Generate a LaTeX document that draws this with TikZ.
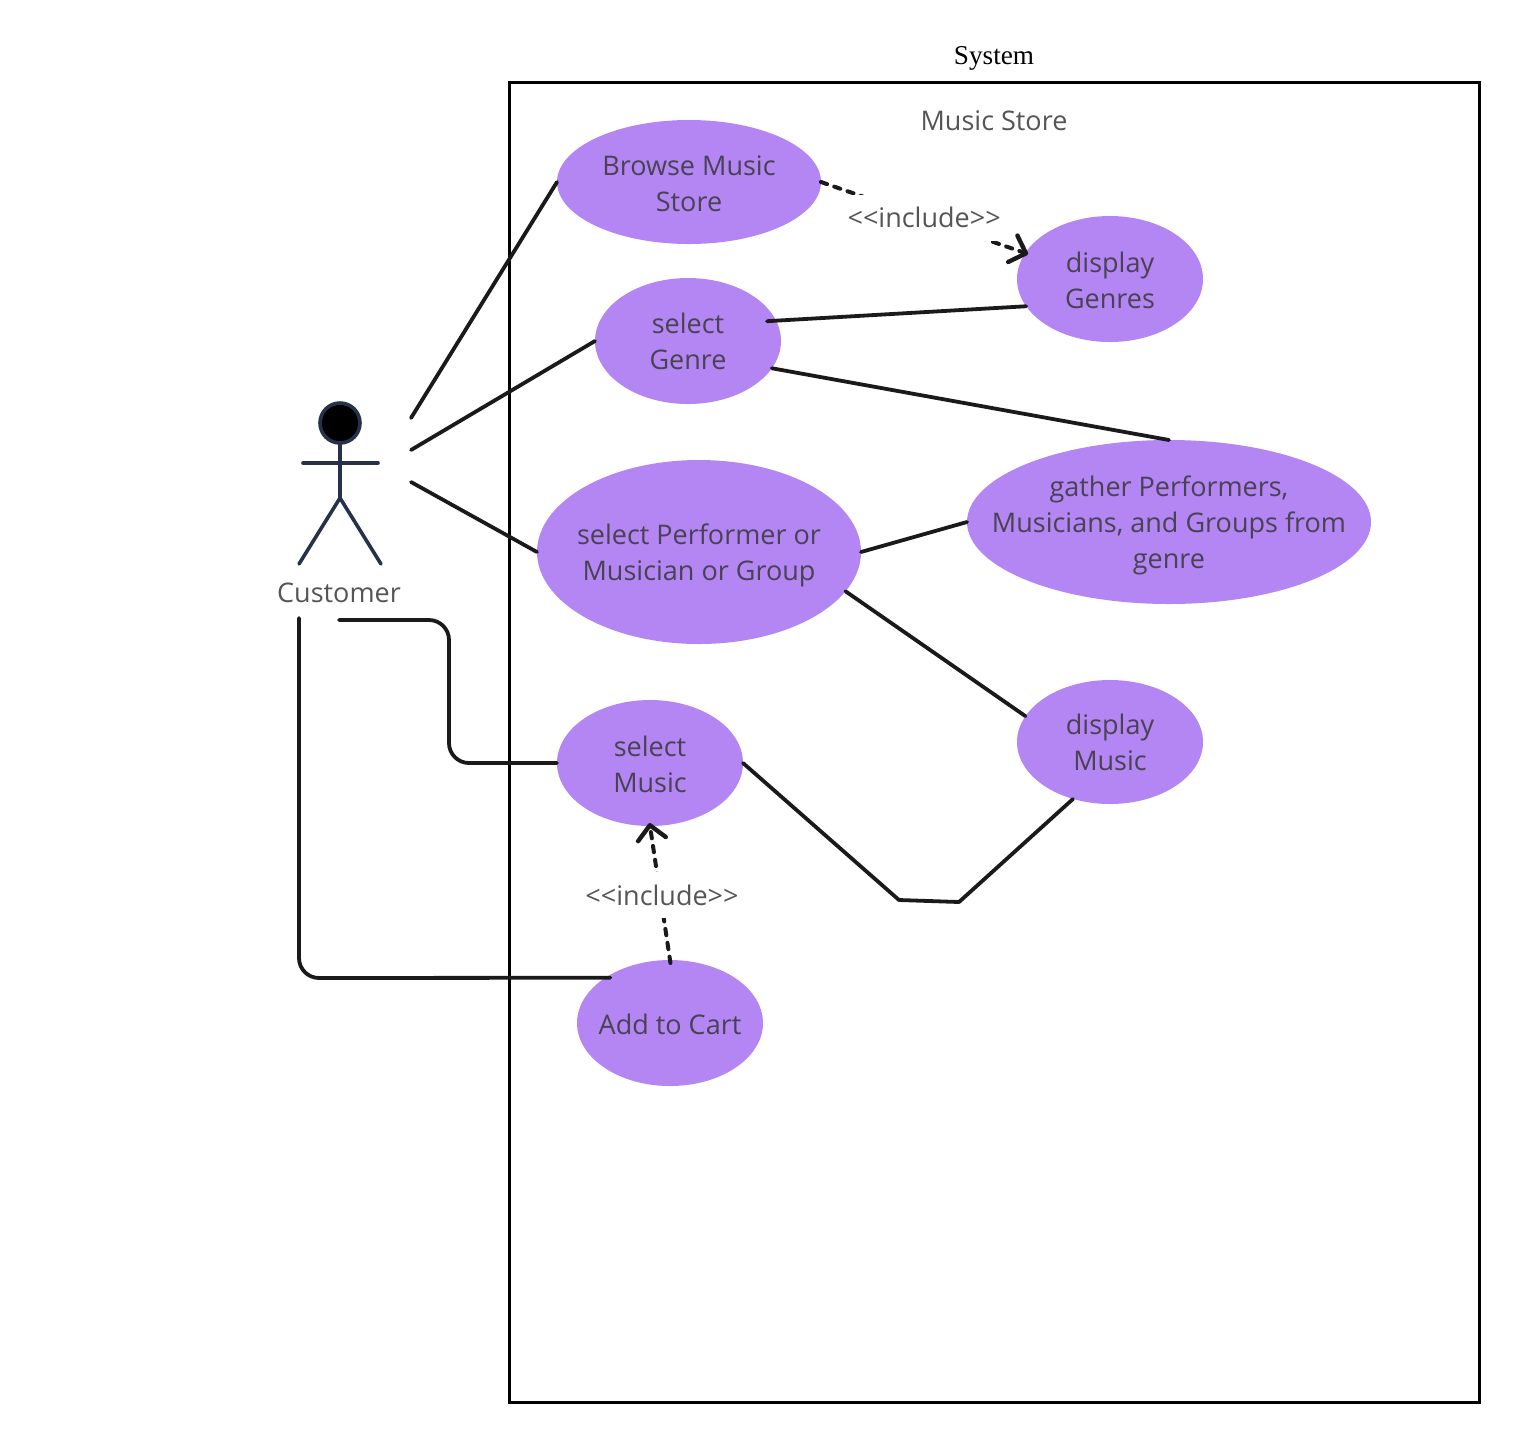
\documentclass[tikz,border=0pt]{standalone}
\usepackage{fontspec}
\setmainfont{Open Sans}
\newfontfamily\serifsys{Liberation Serif}
\usetikzlibrary{arrows.meta}
\usetikzlibrary{shapes.geometric}
\definecolor{usecasefill}{HTML}{B386F4}
\definecolor{usecasetext}{HTML}{4A4152}
\definecolor{labeltext}{HTML}{555555}
\definecolor{actorblue}{HTML}{27324A}
\definecolor{linkblack}{HTML}{1A1A1A}
\tikzset{
	usecase/.style={ellipse,fill=usecasefill,text=usecasetext,inner xsep=-60pt,inner ysep=-30pt,outer sep=0pt,align=center,font=\fontsize{13.5}{18}\selectfont},
	link/.style={draw=linkblack,line width=1.9pt,line cap=round,line join=round},
	dep/.style={draw=linkblack,line width=2pt,line cap=round,dash pattern=on 3.2pt off 3.8pt},
	deptip/.style={-{Straight Barb[length=7pt,width=14pt,line width=2.2pt,round]},shorten >=-1.5pt},
	tag/.style={text=labeltext,fill=white,inner sep=0pt,minimum width=75pt,minimum height=23pt,font=\fontsize{13.5}{18}\selectfont},
	limb/.style={draw=actorblue,line width=1.8pt,line cap=round,line join=round}
}
\begin{document}
\begin{tikzpicture}[x=0.5pt,y=-0.5pt]
	
	\useasboundingbox (0,0) rectangle (1520,1442);
	
	\draw[black,line width=1.5pt,line join=miter] (509,82) rectangle (1479,1402);
	\node[font=\serifsys\fontsize{13.6}{16}\selectfont] (sysname) at (994,58) {System};
	\node[text=labeltext,font=\fontsize{13.5}{18}\selectfont] (storename) at (994,121) {Music Store};
	
	\node[usecase,text height=29.3pt,minimum width=132pt,minimum height=62pt] (browse) at (689,182) {Browse Music\\Store};
	\node[usecase,minimum width=93pt,minimum height=63pt] (genre) at (688,341) {select\\Genre};
	\node[usecase,text height=29.3pt,minimum width=93pt,minimum height=63pt] (genres) at (1110,279) {display\\Genres};
	\node[usecase,text height=31.3pt,minimum width=162pt,minimum height=92pt] (performer) at (699,552) {select Performer or\\Musician or Group};
	\node[usecase,text height=49.3pt,minimum width=202pt,minimum height=82pt] (gather) at (1169,522) {gather Performers,\\Musicians, and Groups from\\genre};
	\node[usecase,minimum width=93pt,minimum height=62pt] (showmusic) at (1110,742) {display\\Music};
	\node[usecase,text height=29.3pt,minimum width=93pt,minimum height=63pt] (music) at (650,763) {select\\Music};
	\node[usecase,text height=11.3pt,minimum width=93pt,minimum height=63pt] (cart) at (670,1023) {Add to Cart};
	
	% actor
	\node[circle,fill=black,draw=actorblue,line width=1.8pt,minimum size=20pt,inner sep=0pt] (head) at (340,423) {};
	\coordinate (hip) at (340,498);
	\coordinate (armL) at (303,463);
	\coordinate (armR) at (378,463);
	\coordinate (footL) at (299,564);
	\coordinate (footR) at (381,564);
	\draw[limb] (head.south) -- (hip);
	\draw[limb] (armL) -- (armR);
	\draw[limb] (footL) -- (hip) -- (footR);
	\node[text=labeltext,font=\fontsize{13.5}{18}\selectfont] (customer) at (339,593) {Customer};
	
	\coordinate (outA) at (411,418);
	\coordinate (outB) at (411,450);
	\coordinate (outC) at (411,482);
	\coordinate (outD) at (339,620);
	\coordinate (outE) at (299,618);
	\coordinate (bendA) at (449,620);
	\coordinate (bendB) at (449,763);
	\coordinate (bendC) at (299,978);
	\coordinate (kneeA) at (899,900);
	\coordinate (kneeB) at (959,902);
	
	\draw[link] (outA) -- (browse.west);
	\draw[link] (outB) -- (genre.west);
	\draw[link] (outC) -- (performer.west);
	\draw[link,rounded corners=10pt] (outD) -- (bendA) -- (bendB) -- (music.west);
	\draw[link,rounded corners=10pt,shorten >=-2.5pt] (outE) -- (bendC) -- (cart.145);
	
	\draw[link,shorten <=-4.5pt] (genre.13) -- (genres.198);
	\draw[link] (genre.-18) -- (gather.north);
	\draw[link] (performer.east) -- (gather.west);
	\draw[link] (performer.-15) -- (showmusic.163);
	\draw[link] (music.east) -- (kneeA) -- (kneeB) -- (showmusic.-123);
	
	\draw[dep,deptip] (browse.east) -- (genres.163) node[tag,midway,xshift=0.5pt] (tagA) {<{}<include>{}>};
	\draw[dep,deptip,shorten <=-1.5pt] (cart.north) -- (music.south) node[tag,midway,xshift=1pt,yshift=-1pt] (tagB) {<{}<include>{}>};
	
\end{tikzpicture}
\end{document}
